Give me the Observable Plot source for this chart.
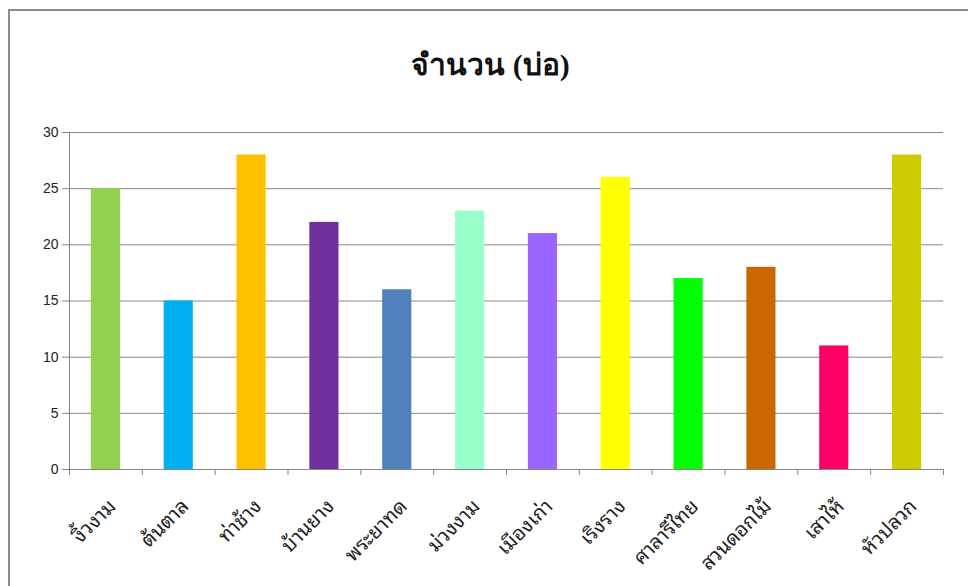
<!DOCTYPE html>
<html>
<head>
<meta charset="utf-8">
<script src="https://cdn.jsdelivr.net/npm/d3@7"></script>
<script src="https://cdn.jsdelivr.net/npm/@observablehq/plot@0.6"></script>
<style>
  html, body { margin: 0; padding: 0; background: #fff; width: 968px; height: 586px; overflow: hidden; }
  #wrap { position: relative; width: 968px; height: 586px; }
  #border { position: absolute; left: 8px; top: 9px; width: 990px; height: 620px; border: 2px solid #8c8c8c; box-sizing: border-box; }
  #chart { position: absolute; left: 0; top: 0; }
</style>
</head>
<body>
<div id="wrap">
  <div id="border"></div>
  <div id="chart"></div>
</div>
<script>
const title = "จำนวน (บ่อ)";
const categories = ["งิ้วงาม", "ต้นตาล", "ท่าช้าง", "บ้านยาง", "พระยาทด", "ม่วงงาม", "เมืองเก่า", "เริงราง", "ศาลารีไทย", "สวนดอกไม้", "เสาไห้", "หัวปลวก"];
const values = [25, 15, 28, 22, 16, 23, 21, 26, 17, 18, 11, 28];
const colors = ["#92D050", "#00B0F0", "#FFC000", "#7030A0", "#4F81BD", "#99FFCC", "#9966FF", "#FFFF00", "#00FF00", "#CC6600", "#FF0066", "#CCCC00"];
const yTicks = [0, 5, 10, 15, 20, 25, 30];

const data = categories.map((c, i) => ({name: c, value: values[i], color: colors[i]}));

const W = 968, H = 586, mL = 69, mR = 25, mT = 132, mB = 117;
const step = (W - mL - mR) / categories.length;
const gridColor = "#868686";
const thaiFont = "'Noto Sans Thai Looped', 'Noto Serif Thai', 'Noto Sans Thai', Tahoma, sans-serif";

const chart = Plot.plot({
  width: W,
  height: H,
  marginLeft: mL,
  marginRight: mR,
  marginTop: mT,
  marginBottom: mB,
  style: {background: "transparent", fontFamily: thaiFont, color: "#222"},
  x: {domain: categories, type: "band", round: false, paddingInner: 0.6, paddingOuter: 0.3, axis: null, label: null},
  y: {domain: [0, 30], axis: null, label: null},
  marks: [
    Plot.gridY(yTicks, {stroke: gridColor, strokeOpacity: 1}),
    Plot.axisY(yTicks, {label: null, tickSize: 7, tickPadding: 4, stroke: gridColor, fontSize: 14, fill: "#222", fontFamily: "'Liberation Sans', sans-serif"}),
    Plot.axisX([categories[0]], {label: null, anchor: "bottom", tickSize: 6, dx: -step / 2, tickFormat: () => "", stroke: gridColor}),
    Plot.axisX([categories[0]], {label: null, anchor: "top", tickSize: -(H - mT - mB), dx: -step / 2, tickFormat: () => "", stroke: gridColor}),
    Plot.barY(data, {x: "name", y: "value", fill: "color"}),
    Plot.axisX(categories, {label: null, tickSize: 6, dx: -step / 2, tickFormat: () => "", stroke: gridColor}),
    Plot.axisX([categories[categories.length - 1]], {label: null, tickSize: 6, dx: step / 2, tickFormat: () => "", stroke: gridColor}),
    Plot.text(categories, {x: d => d, y: 0, rotate: -45, textAnchor: "end", lineAnchor: "bottom", dx: 11, dy: 38, fontSize: 20, fill: "#222"}),
    Plot.text([title], {frameAnchor: "top", dx: -16, dy: -67, lineAnchor: "middle", fontSize: 30, fontWeight: "bold", fill: "#111", fontFamily: "'Liberation Serif', serif"})
  ]
});
document.getElementById("chart").appendChild(chart);
</script>
</body>
</html>
